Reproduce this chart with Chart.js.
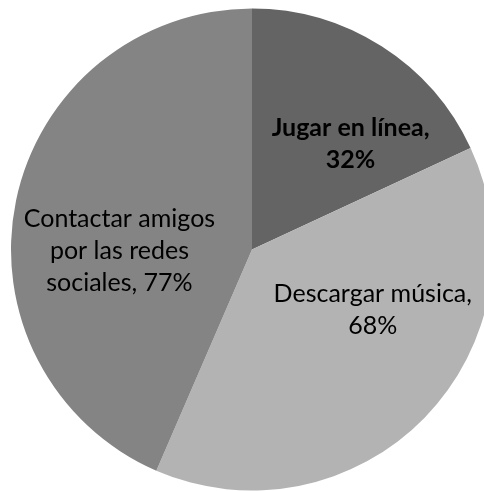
<!DOCTYPE html>
<html>
<head>
<meta charset="utf-8">
<script src="https://cdn.jsdelivr.net/npm/chart.js@4"></script>
<style>
  html, body { margin: 0; padding: 0; background: #fff; }
  #wrap { width: 484px; height: 491px; position: relative; overflow: hidden; }
</style>
</head>
<body>
<div id="wrap"><canvas id="pie"></canvas></div>
<script>
// Datos del gráfico
const categories = ['Jugar en línea', 'Descargar música', 'Contactar amigos por las redes sociales'];
const values = [32, 68, 77];
const sliceColors = ['#646464', '#b3b3b3', '#848484'];

// etiquetas ya cortadas en lineas como en el original
const labelLines = [
  ['Jugar en línea,', '32%'],
  ['Descargar música,', '68%'],
  ['Contactar amigos', 'por las redes', 'sociales, 77%']
];
const labelBold = [true, false, false];
// posicion de la etiqueta: angulo desde arriba (grados) y fraccion del radio
const labelAngle = [43, 116.5, 269.5];
const labelDist = [0.6, 0.56, 0.55];

const fontFamily = 'Lato, "Open Sans", sans-serif';
const fontSize = 25;
const lineHeight = 32;

const sliceLabels = {
  id: 'sliceLabels',
  afterDatasetsDraw(chart) {
    const ctx = chart.ctx;
    const meta = chart.getDatasetMeta(0);
    meta.data.forEach((arc, i) => {
      const a = labelAngle[i] * Math.PI / 180;
      const r = arc.outerRadius * labelDist[i];
      const x = arc.x + r * Math.sin(a);
      const y = arc.y - r * Math.cos(a);
      const lines = labelLines[i];
      ctx.save();
      ctx.fillStyle = '#000';
      ctx.textAlign = 'center';
      ctx.textBaseline = 'middle';
      ctx.font = (labelBold[i] ? 'bold ' : '') + fontSize + 'px ' + fontFamily;
      const top = y - (lines.length - 1) * lineHeight / 2;
      lines.forEach((t, j) => ctx.fillText(t, x, top + j * lineHeight));
      ctx.restore();
    });
  }
};

const ctx = document.getElementById('pie').getContext('2d');
const pieChart = new Chart(ctx, {
  type: 'pie',
  data: {
    labels: categories,
    datasets: [{
      data: values,
      backgroundColor: sliceColors,
      borderWidth: 0,
      radius: 241
    }]
  },
  options: {
    responsive: true,
    maintainAspectRatio: false,
    animation: false,
    layout: { padding: { left: 20, top: 8, right: 0, bottom: 0 } },
    plugins: {
      legend: { display: false },
      tooltip: { enabled: false }
    }
  },
  plugins: [sliceLabels]
});
</script>
</body>
</html>
